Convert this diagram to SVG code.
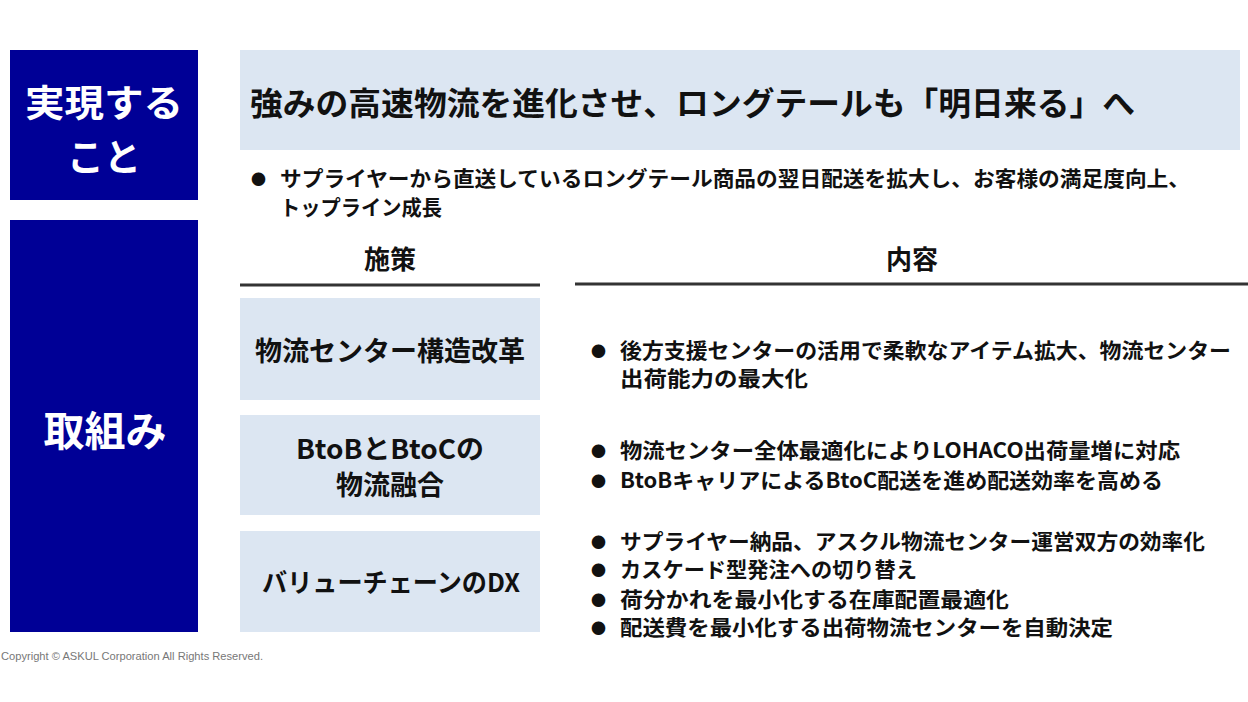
<svg xmlns="http://www.w3.org/2000/svg" width="1248" height="702" viewBox="0 0 1248 702">
<style>
.navy{fill:#000096}
.lb{fill:#DCE6F2}
.wt{font-family:"Noto Sans CJK JP","Noto Sans",sans-serif;font-weight:700;fill:#fff;text-anchor:middle}
.bk{font-family:"Noto Sans CJK JP","Noto Sans",sans-serif;font-weight:700;fill:#111}
.mid{text-anchor:middle}
.rule{stroke:#333;stroke-width:3}
.copy{font-family:"Liberation Sans",Arial,sans-serif;font-size:11px;fill:#777}
</style>
<rect width="1248" height="702" fill="#fff"/>
<g id="goal-label">
<rect class="navy" x="10" y="50" width="188" height="150"/>
<text class="wt" x="104" y="117" font-size="37" textLength="158" lengthAdjust="spacingAndGlyphs">実現する</text>
<text class="wt" x="104" y="171" font-size="37">こと</text>
</g>
<g id="actions-label">
<rect class="navy" x="10" y="220" width="188" height="412"/>
<text class="wt" x="105" y="446" font-size="41">取組み</text>
</g>
<g id="goal-header">
<rect class="lb" x="240" y="50" width="1000" height="100"/>
<text class="bk" x="250" y="115" font-size="32" textLength="885" lengthAdjust="spacingAndGlyphs">強みの高速物流を進化させ、ロングテールも「明日来る」へ</text>
</g>
<g id="goal-detail">
<text class="bk" x="251" y="185" font-size="15">●</text>
<text class="bk" x="280" y="186" font-size="21" textLength="910" lengthAdjust="spacingAndGlyphs">サプライヤーから直送しているロングテール商品の翌日配送を拡大し、お客様の満足度向上、</text>
<text class="bk" x="280" y="215" font-size="21" textLength="162" lengthAdjust="spacingAndGlyphs">トップライン成長</text>
</g>
<g id="col-headers">
<text class="bk mid" x="390" y="269" font-size="26">施策</text>
<line class="rule" x1="240" y1="285" x2="540" y2="285"/>
<text class="bk mid" x="912" y="269" font-size="26">内容</text>
<line class="rule" x1="575" y1="284" x2="1248" y2="284"/>
</g>
<g id="measure-1">
<rect class="lb" x="240" y="298" width="300" height="102"/>
<text class="bk mid" x="390" y="361" font-size="27" textLength="270" lengthAdjust="spacingAndGlyphs">物流センター構造改革</text>
</g>
<g id="measure-2">
<rect class="lb" x="240" y="415" width="300" height="100"/>
<text class="bk mid" x="390" y="459" font-size="27" textLength="188" lengthAdjust="spacingAndGlyphs">BtoBとBtoCの</text>
<text class="bk mid" x="390" y="495" font-size="27">物流融合</text>
</g>
<g id="measure-3">
<rect class="lb" x="240" y="531" width="300" height="101"/>
<text class="bk mid" x="391" y="592" font-size="26" textLength="258" lengthAdjust="spacingAndGlyphs">バリューチェーンのDX</text>
</g>
<g id="content-1">
<text class="bk" x="591" y="357" font-size="15">●</text>
<text class="bk" x="620" y="358" font-size="21" textLength="611" lengthAdjust="spacingAndGlyphs">後方支援センターの活用で柔軟なアイテム拡大、物流センター</text>
<text class="bk" x="620" y="386" font-size="21" textLength="188" lengthAdjust="spacingAndGlyphs">出荷能力の最大化</text>
</g>
<g id="content-2">
<text class="bk" x="591" y="457" font-size="15">●</text>
<text class="bk" x="620" y="458" font-size="21" textLength="560" lengthAdjust="spacingAndGlyphs">物流センター全体最適化によりLOHACO出荷量増に対応</text>
<text class="bk" x="591" y="487" font-size="15">●</text>
<text class="bk" x="620" y="488" font-size="21" textLength="543" lengthAdjust="spacingAndGlyphs">BtoBキャリアによるBtoC配送を進め配送効率を高める</text>
</g>
<g id="content-3">
<text class="bk" x="591" y="548" font-size="15">●</text>
<text class="bk" x="620" y="549" font-size="21" textLength="585" lengthAdjust="spacingAndGlyphs">サプライヤー納品、アスクル物流センター運営双方の効率化</text>
<text class="bk" x="591" y="576" font-size="15">●</text>
<text class="bk" x="620" y="577" font-size="21" textLength="297" lengthAdjust="spacingAndGlyphs">カスケード型発注への切り替え</text>
<text class="bk" x="591" y="606" font-size="15">●</text>
<text class="bk" x="620" y="607" font-size="21" textLength="389" lengthAdjust="spacingAndGlyphs">荷分かれを最小化する在庫配置最適化</text>
<text class="bk" x="591" y="634" font-size="15">●</text>
<text class="bk" x="620" y="635" font-size="21" textLength="493" lengthAdjust="spacingAndGlyphs">配送費を最小化する出荷物流センターを自動決定</text>
</g>
<text class="copy" x="1" y="660" textLength="262" lengthAdjust="spacingAndGlyphs">Copyright © ASKUL Corporation All Rights Reserved.</text>
</svg>
